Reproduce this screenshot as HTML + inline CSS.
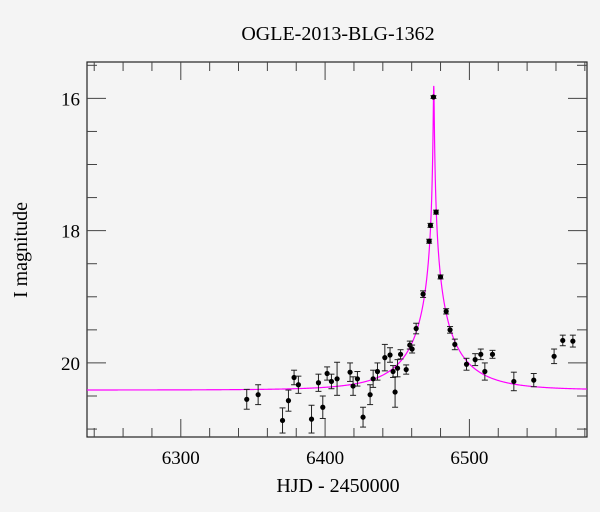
<!DOCTYPE html>
<html><head><meta charset="utf-8"><style>
body{margin:0;background:#f4f4f4;}
svg{display:block;font-family:"Liberation Serif",serif;}
</style></head><body>
<svg id="chart" width="600" height="512">
<rect width="600" height="512" fill="#f4f4f4"/>
<text x="338" y="40" text-anchor="middle" font-size="20" fill="#000">OGLE-2013-BLG-1362</text>
<text x="338" y="492" text-anchor="middle" font-size="20" fill="#000">HJD - 2450000</text>
<text transform="translate(27,250) rotate(-90)" text-anchor="middle" font-size="20" fill="#000">I magnitude</text>
<g id="axes"></g><g id="model"></g><g id="points"></g>
</svg>
<script>
const hjd=[6345.7,6353.6,6370.5,6374.6,6378.5,6381.5,6390.6,6395.4,6398.4,6401.4,6404.4,6408.3,6417.3,6419.4,6422.4,6426.3,6431.2,6433.3,6436.3,6441.4,6445.0,6447.1,6448.5,6450.2,6452.3,6456.2,6458.7,6460.3,6463.1,6467.9,6472.1,6473.0,6475.1,6476.9,6480.0,6483.9,6486.6,6489.9,6498.0,6504.0,6507.9,6510.7,6516.0,6530.8,6544.6,6558.7,6564.7,6571.7];
const mag=[20.55,20.48,20.87,20.57,20.22,20.33,20.85,20.30,20.67,20.16,20.28,20.24,20.14,20.35,20.24,20.82,20.48,20.24,20.13,19.92,19.88,20.13,20.44,20.08,19.87,20.10,19.73,19.79,19.48,18.96,18.16,17.92,15.98,17.72,18.70,19.22,19.50,19.72,20.02,19.95,19.87,20.13,19.87,20.28,20.26,19.90,19.66,19.67];
const err=[0.15,0.15,0.19,0.16,0.11,0.13,0.21,0.13,0.17,0.10,0.11,0.25,0.14,0.14,0.11,0.15,0.15,0.13,0.13,0.20,0.11,0.09,0.23,0.13,0.07,0.07,0.06,0.06,0.08,0.05,0.03,0.03,0.02,0.03,0.03,0.04,0.05,0.08,0.09,0.09,0.08,0.13,0.06,0.14,0.10,0.11,0.08,0.09];
const xTicks=[6300,6400,6500];
const yTicks=[16,18,20];
const model={t0:6475.3,tE:41,u0:0.0073,fs:0.5,base:20.41};
const X0=87,X1=587,Y0=62,Y1=437;
const xMin=6235.0,xMax=6581.5,yMin=15.45,yMax=21.12;
const sx=v=>X0+(v-xMin)/(xMax-xMin)*(X1-X0);
const sy=v=>Y0+(v-yMin)/(yMax-yMin)*(Y1-Y0);
const NS="http://www.w3.org/2000/svg";
function mk(tag,attrs,parent){const e=document.createElementNS(NS,tag);for(const k in attrs)e.setAttribute(k,attrs[k]);parent.appendChild(e);return e;}
const axes=document.getElementById('axes');
const frame=mk('rect',{x:X0,y:Y0,width:X1-X0,height:Y1-Y0,fill:'none',stroke:'#222','stroke-width':1.2},axes);


for(let v=6240;v<=xMax;v+=20){
  const x=sx(v),L=(v%100===0)?18:9;
  const t1=mk('line',{x1:x,x2:x,y1:Y1,y2:Y1-L,stroke:'#444','stroke-width':1},axes);
  
  
  const t2=mk('line',{x1:x,x2:x,y1:Y0,y2:Y0+L,stroke:'#444','stroke-width':1},axes);
  
  
}
xTicks.forEach(v=>{
  const t=mk('text',{x:sx(v),y:464,'text-anchor':'middle','font-size':19},axes);t.textContent=v;
  
  
});
for(let v=15.5;v<=yMax;v+=0.5){
  const y=sy(v),L=(Math.abs(v%2)<1e-6)?19:10;
  const t1=mk('line',{x1:X0,x2:X0+L,y1:y,y2:y,stroke:'#444','stroke-width':1},axes);
  
  
  const t2=mk('line',{x1:X1,x2:X1-L,y1:y,y2:y,stroke:'#444','stroke-width':1},axes);
  
  
}
yTicks.forEach(v=>{
  const t=mk('text',{x:80,y:sy(v)+7,'text-anchor':'end','font-size':19},axes);t.textContent=v;
  
  
});
function modelMag(t){const u=Math.sqrt(model.u0**2+((t-model.t0)/model.tE)**2);const A=(u*u+2)/(u*Math.sqrt(u*u+4));const F=1+model.fs*(A-1);return model.base-2.5*Math.log10(F);}
let d='';
const ts=[];for(let t=xMin;t<=xMax;t+=0.5)ts.push(t);
for(let t=model.t0-3;t<=model.t0+3;t+=0.02)ts.push(t);
ts.sort((a,b)=>a-b);
ts.forEach((t,i)=>{d+=(i?'L':'M')+sx(t).toFixed(2)+','+Math.max(Y0,sy(modelMag(t))).toFixed(2);});
const mp=mk('path',{d:d,fill:'none',stroke:'#ff00ff','stroke-width':1.2},document.getElementById('model'));


const pg=document.getElementById('points');
hjd.forEach((t,i)=>{
  const x=sx(t),y=sy(mag[i]),ya=sy(mag[i]-err[i]),yb=sy(mag[i]+err[i]);
  const g=mk('g',{},pg);
  
  
  mk('line',{x1:x,x2:x,y1:ya,y2:yb,stroke:'#222','stroke-width':1},g);
  mk('line',{x1:x-3,x2:x+3,y1:ya,y2:ya,stroke:'#222','stroke-width':1},g);
  mk('line',{x1:x-3,x2:x+3,y1:yb,y2:yb,stroke:'#222','stroke-width':1},g);
  mk('circle',{cx:x,cy:y,r:2.6,fill:'#000'},g);
});
</script>
</body></html>
